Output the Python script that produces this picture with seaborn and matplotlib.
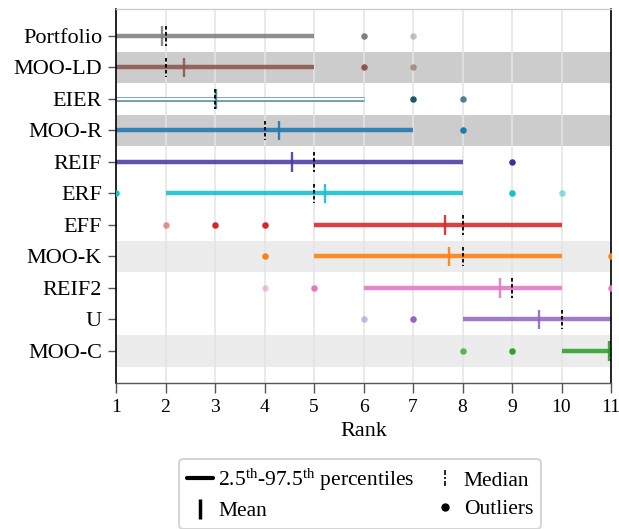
import numpy as np
import pandas as pd
import matplotlib
matplotlib.use("Agg")
import matplotlib.pyplot as plt
from matplotlib.lines import Line2D
from matplotlib.path import Path
import seaborn as sns

# ---------------- data ----------------
methods = ["Portfolio", "MOO-LD", "EIER", "MOO-R", "REIF", "ERF",
           "EFF", "MOO-K", "REIF2", "U", "MOO-C"]
p_low = [1, 1, 1, 1, 1, 2, 5, 5, 6, 8, 10]
p_high = [5, 5, 6, 7, 8, 8, 10, 10, 10, 11, 11]
mean_rank = [1.93, 2.38, 3.03, 4.30, 4.55, 5.22, 7.64, 7.73, 8.75, 9.54, 10.95]
median_rank = [2, 2, 3, 4, 5, 5, 8, 8, 9, 10, 11]
outlier_ranks = [[6, 7], [6, 7], [7, 8], [8], [9], [1, 9, 10],
                 [2, 3, 4], [4, 11], [4, 5, 11], [6, 7], [8, 9]]
outlier_alpha = [[1.0, 0.45], [1.0, 0.55], [1.0, 0.75], [1.0], [1.0],
                 [1.0, 1.0, 0.5], [0.5, 1.0, 1.0], [1.0, 1.0],
                 [0.45, 1.0, 1.0], [0.45, 1.0], [0.75, 1.0]]
colors = ["#7f7f7f", "#8c564b", "#6e9fa6", "#1f77b4", "#4b3aa6", "#17becf",
          "#d62728", "#ff7f0e", "#e377c2", "#9467bd", "#2ca02c"]
outlier_colors = ["#7f7f7f", "#8c564b", "#1a5a6a", "#1f77b4", "#3f2f9a", "#17becf",
                  "#d62728", "#ff7f0e", "#e377c2", "#9467bd", "#2ca02c"]
band_rows = [1, 3, 7, 10]
band_colors = ["#cccccc", "#cccccc", "#ececec", "#ececec"]
x_ticks = list(range(1, 12))

# ---------------- style ----------------
sns.set_theme(style="white")
plt.rcParams["font.family"] = ["Liberation Serif", "DejaVu Serif"]
plt.rcParams["mathtext.fontset"] = "custom"
plt.rcParams["mathtext.rm"] = "Liberation Serif"
plt.rcParams["mathtext.it"] = "Liberation Serif:italic"
for k in ["text.color", "axes.labelcolor", "xtick.labelcolor", "ytick.labelcolor"]:
    plt.rcParams[k] = "black"

FS = 16
fig = plt.figure(figsize=(6.19, 5.29), dpi=100)
ax = fig.add_axes([116 / 619, 1 - 382.5 / 529, (611 - 116) / 619, (382.5 - 8.5) / 529])

for r, c in zip(band_rows, band_colors):
    ax.axhspan(r - 0.5, r + 0.5, color=c, lw=0, zorder=0)

ax.set_xlim(1, 11)
ax.set_ylim(11.0, -0.873)
ax.set_xticks(x_ticks)
ax.set_xticklabels([str(t) for t in x_ticks])
ax.set_yticks(range(len(methods)))
ax.set_yticklabels(methods)
ax.xaxis.grid(True, color="#e4e4e4", lw=1.1, zorder=0.5)
ax.yaxis.grid(False)
ax.set_axisbelow(True)

h = 0.31
for i, m in enumerate(methods):
    col = colors[i]
    if m == "EIER":
        ax.hlines(i, p_low[i], p_high[i], color=col, lw=3.6, zorder=2)
        ax.hlines(i, p_low[i], p_high[i], color="white", lw=1.6, zorder=2.1)
        mcol = "#3f7f8c"
    else:
        ax.hlines(i, p_low[i], p_high[i], color=col, lw=3.2, alpha=0.88, zorder=2)
        mcol = col
    ax.vlines(mean_rank[i], i - h, i + h, color=mcol, lw=1.7, alpha=0.9, zorder=3)
    ax.vlines(median_rank[i], i - h, i + h, color="black", lw=1.3,
              linestyles=(0, (2.0, 1.3)), zorder=4)
    df = pd.DataFrame({"rank": outlier_ranks[i], "row": [i] * len(outlier_ranks[i]),
                       "alpha": outlier_alpha[i]})
    for _, rw in df.iterrows():
        sns.scatterplot(x=[rw["rank"]], y=[rw["row"]], ax=ax, color=outlier_colors[i],
                        alpha=rw["alpha"], s=22, linewidth=0, zorder=5, clip_on=True,
                        legend=False)

ax.set_xlabel("Rank", fontsize=FS, labelpad=4)
ax.set_ylabel("")
ax.tick_params(axis="x", labelsize=14, length=7, width=1, color="#555555", bottom=True, pad=5)
ax.tick_params(axis="y", labelsize=FS, length=6, width=1, color="#555555", left=True, pad=4)

for s in ["left", "right"]:
    ax.spines[s].set_color("black")
    ax.spines[s].set_linewidth(1.2)
ax.spines["bottom"].set_color("#555555")
ax.spines["bottom"].set_linewidth(1.0)
ax.spines["top"].set_color("#cccccc")
ax.spines["top"].set_linewidth(1.0)

# legend
median_marker = Path([(0, -1), (0, -0.35), (0, -0.15), (0, 0.15), (0, 0.35), (0, 1)],
                     [Path.MOVETO, Path.LINETO, Path.MOVETO, Path.LINETO,
                      Path.MOVETO, Path.LINETO])
handles = [
    Line2D([], [], color="black", lw=3),
    Line2D([], [], color="black", marker="|", markersize=14, markeredgewidth=2.5, ls="none"),
    Line2D([], [], color="black", marker=median_marker, markersize=12,
           markeredgewidth=1.2, ls="none"),
    Line2D([], [], color="black", marker="o", markersize=5, ls="none"),
]
labels = [r"2.5$^{\mathrm{th}}$-97.5$^{\mathrm{th}}$ percentiles", "Mean", "Median", "Outliers"]
leg = fig.legend(handles, labels, ncol=2, loc="upper center",
                 bbox_to_anchor=(360 / 619, 1 - 459 / 529), borderaxespad=0,
                 fontsize=15.5, frameon=True, fancybox=True, edgecolor="#cccccc",
                 handlelength=1.2, columnspacing=0.85, handletextpad=0.25,
                 borderpad=0.35, labelspacing=0.4)
leg.get_frame().set_linewidth(1.5)

fig.savefig("out.png", dpi=100)
